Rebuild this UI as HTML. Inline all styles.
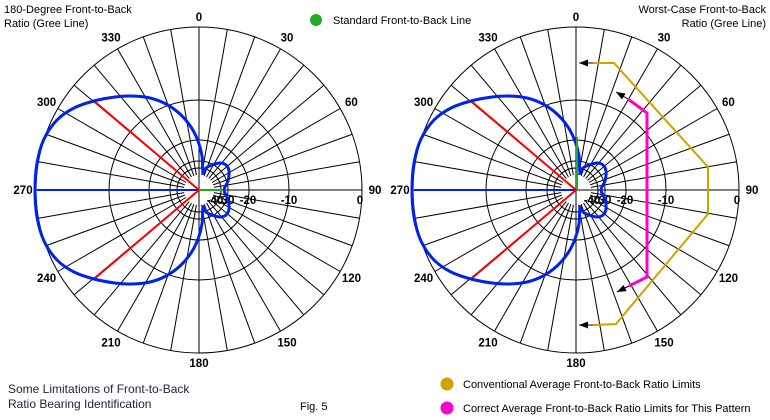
<!DOCTYPE html>
<html><head><meta charset="utf-8"><style>
html,body{margin:0;padding:0;background:#fff;}
svg{display:block;font-family:"Liberation Sans",Arial,sans-serif;}
</style></head><body>
<svg id="s" width="770" height="420" viewBox="0 0 770 420" xmlns="http://www.w3.org/2000/svg">
<rect width="770" height="420" fill="#fff"/>
<g id="g"></g>
<text x="4" y="13" font-size="11">180-Degree Front-to-Back</text>
<text x="4" y="27" font-size="11">Ratio (Gree Line)</text>
<text x="766" y="13" font-size="11" text-anchor="end">Worst-Case Front-to-Back</text>
<text x="766" y="27" font-size="11" text-anchor="end">Ratio (Gree Line)</text>
<circle cx="316" cy="20" r="6" fill="#22aa22"/>
<text x="333" y="24" font-size="11">Standard Front-to-Back Line</text>
<text x="8" y="393" font-size="12" fill="#222244">Some Limitations of Front-to-Back</text>
<text x="8" y="408" font-size="12" fill="#222244">Ratio Bearing Identification</text>
<text x="300" y="410" font-size="11">Fig. 5</text>
<circle cx="447" cy="384" r="6.5" fill="#d4a000"/>
<text x="463" y="388" font-size="11">Conventional Average Front-to-Back Ratio Limits</text>
<circle cx="447" cy="408" r="6.5" fill="#ff00cc"/>
<text x="463" y="412" font-size="11">Correct Average Front-to-Back Ratio Limits for This Pattern</text>
</svg>
<script>
const g=document.getElementById('g');let h='';
const R=163;
function smooth(p){const n=p.length;let d=`M${p[0][0]},${p[0][1]}`;
  for(let i=0;i<n;i++){const p0=p[(i-1+n)%n],p1=p[i],p2=p[(i+1)%n],p3=p[(i+2)%n];
    d+=` C${p1[0]+(p2[0]-p0[0])/6},${p1[1]+(p2[1]-p0[1])/6} ${p2[0]-(p3[0]-p1[0])/6},${p2[1]-(p3[1]-p1[1])/6} ${p2[0]},${p2[1]}`;}
  return d+'Z';}
function chart(cx,cy){
  for(let a=0;a<360;a+=10){const t=a*Math.PI/180;
    h+=`<line x1="${cx+15*Math.sin(t)}" y1="${cy-15*Math.cos(t)}" x2="${cx+R*Math.sin(t)}" y2="${cy-R*Math.cos(t)}" stroke="#000" stroke-width="1"/>`;}
  [163,90,50,29,22].forEach(r=>h+=`<circle cx="${cx}" cy="${cy}" r="${r}" fill="none" stroke="#000"/>`);
  h+=`<circle cx="${cx}" cy="${cy}" r="15" fill="#fff"/>`;
  h+=`<line x1="${cx-R}" y1="${cy}" x2="${cx+R}" y2="${cy}" stroke="#000"/><line x1="${cx}" y1="${cy-R}" x2="${cx}" y2="${cy+R}" stroke="#000"/>`;
  for(let a=0;a<360;a+=30){const t=a*Math.PI/180;const r=(a%180==0)?173:176;
    h+=`<text x="${cx+r*Math.sin(t)}" y="${cy-r*Math.cos(t)+4}" font-size="11.5" font-weight="bold" text-anchor="middle">${a}</text>`;}
  [[-40,16],[30,29],[-20,49],[-10,90],[0,161]].forEach(([l,dx])=>h+=`<text x="${cx+dx}" y="${cy+14}" font-size="11.5" font-weight="bold" text-anchor="middle">${l}</text>`);
  const up=[[35,190],[37,163],[44,139],[57,120],[74,108],[94,101],[115,97],[132,96],[150,98],[166,104],[180,114],[191,127],[198,141],[202,156],[203,173],[206,168],[212,165],[220,163],[226,165],[229,171],[228,181],[224,190]];
  const pts=up.concat(up.slice(1,-1).reverse().map(p=>[p[0],380-p[1]]));
  const off=cx-199;
  h+=`<line x1="${cx}" y1="${cy}" x2="${cx-162}" y2="${cy}" stroke="#0022ee" stroke-width="2"/>`;
  h+=`<line x1="${cx}" y1="${cy}" x2="${94+off}" y2="101" stroke="#ff0000" stroke-width="2"/><line x1="${cx}" y1="${cy}" x2="${94+off}" y2="279" stroke="#ff0000" stroke-width="2"/>`;
  h+=`<path d="${smooth(pts.map(p=>[p[0]+off,p[1]]))}" fill="none" stroke="#0022ee" stroke-width="3" stroke-linejoin="round"/>`;
}
chart(199,190);chart(576,190);
h+=`<line x1="199" y1="190" x2="223" y2="190" stroke="#22aa22" stroke-width="2"/>`;
h+=`<line x1="577" y1="190" x2="577" y2="137" stroke="#22aa22" stroke-width="2"/>`;
h+=`<polyline points="593,63 614,63 708,167 708,214 616,324 593,325" fill="none" stroke="#d4a000" stroke-width="2"/>`;
h+=`<polyline points="628,99 647,113 647,277 629,286" fill="none" stroke="#ff00cc" stroke-width="3"/>`;
function arrow(x1,y1,x2,y2){const a=Math.atan2(y2-y1,x2-x1),L=9,W=3.5;
  h+=`<line x1="${x1}" y1="${y1}" x2="${x2}" y2="${y2}" stroke="#000"/>`;
  const bx=x2-L*Math.cos(a),by=y2-L*Math.sin(a);
  h+=`<polygon points="${x2},${y2} ${bx-W*Math.sin(a)},${by+W*Math.cos(a)} ${bx+W*Math.sin(a)},${by-W*Math.cos(a)}" fill="#000"/>`;}
arrow(593,63,579,63);arrow(593,325,579,325);
arrow(628,99,616,92);arrow(629,286,617,292);
g.innerHTML=h;
</script>
</body></html>
